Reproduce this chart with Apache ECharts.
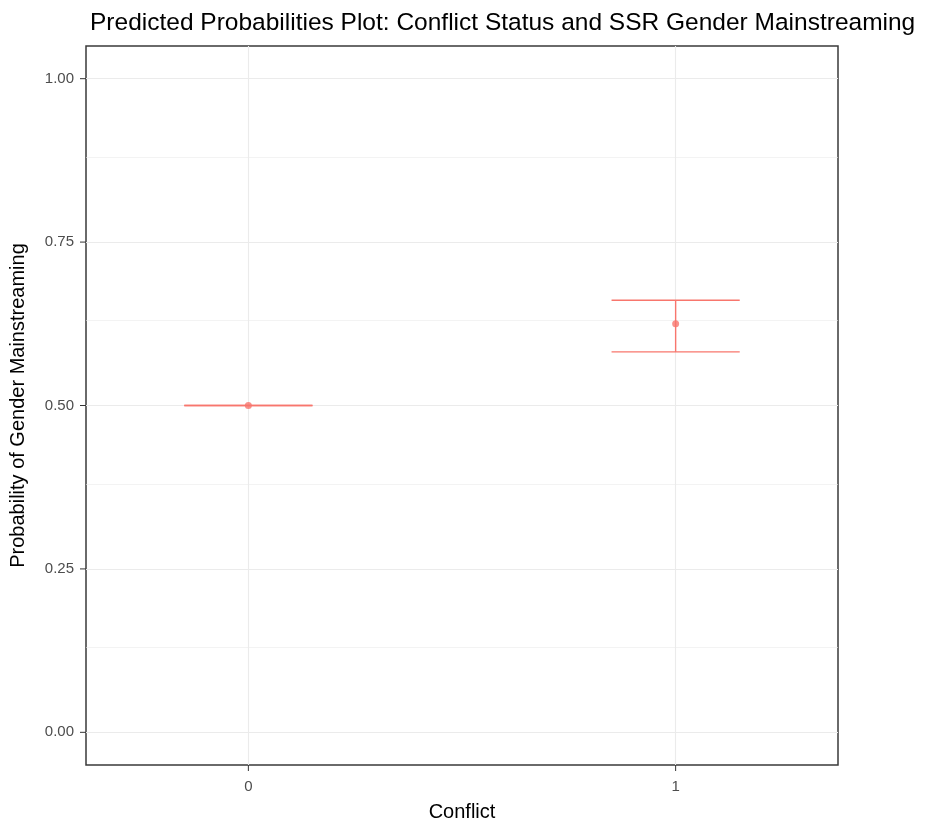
<!DOCTYPE html>
<html>
<head>
<meta charset="utf-8">
<script src="https://cdn.jsdelivr.net/npm/echarts@6/dist/echarts.min.js"></script>
<style>
html,body{margin:0;padding:0;background:#fff;}
#chart{width:938px;height:825px;}
</style>
</head>
<body>
<div id="chart"></div>
<script>
var categories = ['0', '1'];
var xPositions = [0, 1];
var predicted = [0.500, 0.625];
var lowerCI = [0.500, 0.582];
var upperCI = [0.500, 0.661];
var yTicks = [0, 0.25, 0.5, 0.75, 1];
var yMinorTicks = [0.125, 0.375, 0.625, 0.875];
var errorHalfWidth = 0.15;

var col = '#F8766D';
var FONT = 'Liberation Sans, Arial, sans-serif';
var X_MIN = -0.38, X_MAX = 1.38, Y_MIN = -0.05, Y_MAX = 1.05;
var TICK_LEN = 6;
var chart = echarts.init(document.getElementById('chart'));

var errData = xPositions.map(function (x, i) { return [x, lowerCI[i], upperCI[i]]; });
var ptData = xPositions.map(function (x, i) { return [x, predicted[i]]; });
var tickData = yTicks.map(function (v) { return [X_MIN, v, 0]; })
  .concat(xPositions.map(function (v) { return [v, Y_MIN, 1]; }));

var option = {
  backgroundColor: '#fff',
  animation: false,
  title: {
    text: 'Predicted Probabilities Plot: Conflict Status and SSR Gender Mainstreaming',
    left: 85, top: 6,
    textStyle: { fontFamily: FONT, fontSize: 24.5, fontWeight: 'normal', color: '#000' }
  },
  grid: { left: 86, right: 100, top: 46, bottom: 60, outerBoundsMode: 'none', containLabel: false,
    show: true, borderColor: '#3a3a3a', borderWidth: 1.5, backgroundColor: '#fff' },
  xAxis: {
    type: 'value', min: X_MIN, max: X_MAX,
    name: 'Conflict', nameLocation: 'middle', nameGap: 37,
    nameTextStyle: { fontFamily: FONT, fontSize: 20, color: '#000' },
    axisLine: { show: false },
    axisTick: { show: false },
    axisLabel: { customValues: xPositions, formatter: function (v) { var i = xPositions.indexOf(v); return i >= 0 ? categories[i] : ''; },
      fontFamily: FONT, fontSize: 15, color: '#4D4D4D', margin: 14 },
    splitLine: { show: false }
  },
  yAxis: {
    type: 'value', min: Y_MIN, max: Y_MAX,
    name: 'Probability of Gender Mainstreaming', nameLocation: 'middle', nameGap: 58,
    nameTextStyle: { fontFamily: FONT, fontSize: 20, color: '#000' },
    axisLine: { show: false },
    axisTick: { show: false },
    axisLabel: { customValues: yTicks, formatter: function (v) { return v.toFixed(2); },
      fontFamily: FONT, fontSize: 15, color: '#4D4D4D', margin: 12 },
    splitLine: { show: false }
  },
  series: [
    {
      type: 'line', data: [], silent: true, z: 1,
      markLine: {
        z: 1, symbol: 'none', silent: true, label: { show: false }, animation: false,
        data: yMinorTicks.map(function (v) { return { yAxis: v, lineStyle: { color: '#EBEBEB', width: 0.6, type: 'solid' } }; })
          .concat(yTicks.map(function (v) { return { yAxis: v, lineStyle: { color: '#EBEBEB', width: 1.1, type: 'solid' } }; }))
          .concat(xPositions.map(function (v) { return { xAxis: v, lineStyle: { color: '#EBEBEB', width: 1.1, type: 'solid' } }; }))
      }
    },
    {
      type: 'custom', data: tickData, z: 12, clip: false, silent: true,
      renderItem: function (params, api) {
        var p = api.coord([api.value(0), api.value(1)]);
        var vertical = api.value(2) === 1;
        var shape = vertical ? { x1: p[0], y1: p[1], x2: p[0], y2: p[1] + TICK_LEN }
                             : { x1: p[0] - TICK_LEN, y1: p[1], x2: p[0], y2: p[1] };
        return { type: 'line', shape: shape, style: { stroke: '#333333', lineWidth: 1 } };
      }
    },
    {
      type: 'custom', data: errData, z: 10,
      renderItem: function (params, api) {
        var x = api.value(0), lo = api.value(1), hi = api.value(2);
        var pLo = api.coord([x, lo]), pHi = api.coord([x, hi]);
        var l1 = api.coord([x - errorHalfWidth, lo]), r1 = api.coord([x + errorHalfWidth, lo]);
        var l2 = api.coord([x - errorHalfWidth, hi]), r2 = api.coord([x + errorHalfWidth, hi]);
        var st = { stroke: col, lineWidth: 1.4 };
        return { type: 'group', children: [
          { type: 'line', shape: { x1: pLo[0], y1: pLo[1], x2: pHi[0], y2: pHi[1] }, style: st },
          { type: 'line', shape: { x1: l1[0], y1: l1[1], x2: r1[0], y2: r1[1] }, style: st },
          { type: 'line', shape: { x1: l2[0], y1: l2[1], x2: r2[0], y2: r2[1] }, style: st }
        ] };
      }
    },
    {
      type: 'scatter', data: ptData, symbol: 'circle', symbolSize: 7, z: 11,
      itemStyle: { color: col }
    }
  ]
};
chart.setOption(option);
</script>
</body>
</html>
